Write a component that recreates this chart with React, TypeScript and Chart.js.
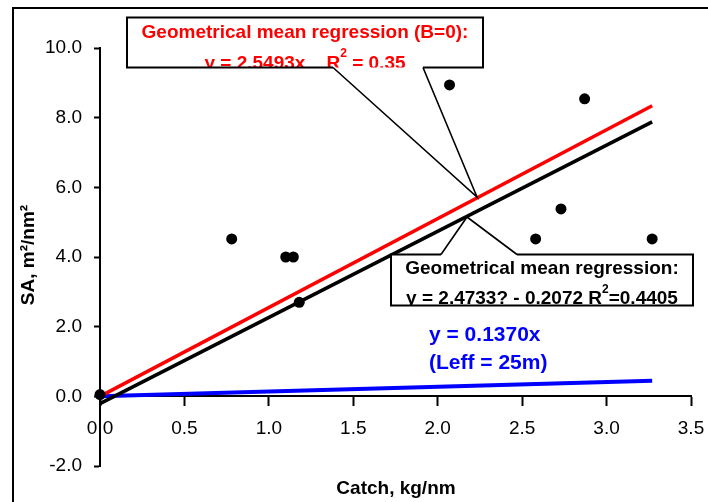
import React, { useEffect, useRef } from "react";
import { Chart, registerables } from "chart.js";

Chart.register(...registerables);

// ---- Data ----
const catchValues = [0, 0.78, 1.1, 1.145, 1.18, 2.07, 2.58, 2.73, 2.87, 3.27];
const saValues = [0.05, 4.52, 4.0, 4.0, 2.7, 8.94, 4.52, 5.38, 8.54, 4.52];

const lineX = [0, 3.27];
const gmrB0Y = [0, 8.34]; // y = 2.5493x
const gmrY = [-0.21, 7.88]; // y = 2.4733x - 0.2072
const leffY = [0, 0.45]; // y = 0.1370x

const xTitle = "Catch, kg/nm";
const yTitle = "SA, m\u00b2/nm\u00b2";

const FAMILY = '"Liberation Sans", Arial, Helvetica, sans-serif';

function toPoints(xs: number[], ys: number[]) {
  return xs.map((x, i) => ({ x, y: ys[i] }));
}

function drawSupLine(
  ctx: CanvasRenderingContext2D,
  pre: string,
  sup: string,
  post: string,
  cx: number,
  y: number,
  font: string,
  supFont: string,
  raise: number
) {
  ctx.font = font;
  const w1 = ctx.measureText(pre).width;
  const w3 = ctx.measureText(post).width;
  ctx.font = supFont;
  const w2 = ctx.measureText(sup).width;
  let x = cx - (w1 + w2 + w3) / 2;
  ctx.textAlign = "left";
  ctx.textBaseline = "alphabetic";
  ctx.font = font;
  ctx.fillText(pre, x, y);
  x += w1;
  ctx.font = supFont;
  ctx.fillText(sup, x, y - raise);
  x += w2;
  ctx.font = font;
  ctx.fillText(post, x, y);
}

const annotationPlugin = {
  id: "annotationsCustom",
  afterDraw(chart: any) {
    const ctx: CanvasRenderingContext2D = chart.ctx;
    ctx.save();

    // outer frame (top and left edges visible)
    ctx.fillStyle = "#000";
    ctx.fillRect(12, 7, 720, 2);
    ctx.fillRect(12, 7, 2, 520);

    const bold19 = `bold 19px ${FAMILY}`;
    const sup12 = `bold 12px ${FAMILY}`;

    // ---- Box 1 (red text) ----
    {
      const l = 127, t = 17.5, r = 483, b = 67.5;
      ctx.fillStyle = "#fff";
      ctx.fillRect(l, t, r - l, b - t);
      ctx.save();
      ctx.beginPath();
      ctx.rect(l, t, r - l, b - t);
      ctx.clip();
      ctx.fillStyle = "#ff0000";
      ctx.font = bold19;
      ctx.textAlign = "center";
      ctx.textBaseline = "alphabetic";
      ctx.fillText("Geometrical mean regression (B=0):", (l + r) / 2, 38);
      drawSupLine(ctx, "y = 2.5493x    R", "2", " = 0.35", (l + r) / 2, 68.5, bold19, sup12, 12);
      ctx.restore();
      ctx.strokeStyle = "#000";
      ctx.lineWidth = 2;
      ctx.beginPath();
      ctx.moveTo(333, b);
      ctx.lineTo(l, b);
      ctx.lineTo(l, t);
      ctx.lineTo(r, t);
      ctx.lineTo(r, b);
      ctx.lineTo(423, b);
      ctx.stroke();
      ctx.lineWidth = 1.6;
      ctx.beginPath();
      ctx.moveTo(333, b);
      ctx.lineTo(477, 197);
      ctx.lineTo(423, b);
      ctx.stroke();
    }

    // ---- Box 2 (black text) ----
    {
      const l = 391, t = 254.5, r = 693, b = 305.5;
      ctx.fillStyle = "#fff";
      ctx.fillRect(l, t, r - l, b - t);
      ctx.save();
      ctx.beginPath();
      ctx.rect(l, t, r - l, b - t);
      ctx.clip();
      ctx.fillStyle = "#000";
      ctx.font = bold19;
      ctx.textAlign = "center";
      ctx.textBaseline = "alphabetic";
      ctx.fillText("Geometrical mean regression:", (l + r) / 2, 274);
      drawSupLine(ctx, "y = 2.4733? - 0.2072 R", "2", "=0.4405", (l + r) / 2, 304, bold19, sup12, 11);
      ctx.restore();
      ctx.strokeStyle = "#000";
      ctx.lineWidth = 2;
      ctx.beginPath();
      ctx.moveTo(441, t);
      ctx.lineTo(l, t);
      ctx.lineTo(l, b);
      ctx.lineTo(r, b);
      ctx.lineTo(r, t);
      ctx.lineTo(517, t);
      ctx.stroke();
      ctx.lineWidth = 1.6;
      ctx.beginPath();
      ctx.moveTo(441, t);
      ctx.lineTo(467, 217);
      ctx.lineTo(517, t);
      ctx.stroke();
    }

    // ---- Blue label ----
    ctx.fillStyle = "#0000ff";
    ctx.font = `bold 21px ${FAMILY}`;
    ctx.textAlign = "left";
    ctx.textBaseline = "alphabetic";
    ctx.fillText("y = 0.1370x", 429, 341);
    ctx.fillText("(Leff = 25m)", 429, 369);

    // ---- Axis titles ----
    ctx.fillStyle = "#000";
    ctx.font = `bold 19px ${FAMILY}`;
    ctx.textAlign = "center";
    ctx.textBaseline = "alphabetic";
    ctx.fillText(xTitle, 396, 494);
    ctx.save();
    ctx.translate(29, 255);
    ctx.rotate(-Math.PI / 2);
    ctx.textBaseline = "middle";
    ctx.fillText(yTitle, 0, 0);
    ctx.restore();

    ctx.restore();
  },
};

export default function App() {
  const canvasRef = useRef<HTMLCanvasElement | null>(null);

  useEffect(() => {
    const canvas = canvasRef.current;
    if (!canvas) return;
    const tickFont = { family: FAMILY, size: 19 };
    const chart = new Chart(canvas, {
      type: "scatter",
      data: {
        datasets: [
          {
            label: "Observations",
            data: toPoints(catchValues, saValues),
            showLine: false,
            pointRadius: 5.5,
            pointBackgroundColor: "#000",
            pointBorderColor: "#000",
            pointBorderWidth: 0,
            clip: false,
          } as any,
          {
            label: "Geometrical mean regression (B=0)",
            data: toPoints(lineX, gmrB0Y),
            showLine: true,
            borderColor: "#ff0000",
            borderWidth: 3.5,
            pointRadius: 0,
            clip: false,
          },
          {
            label: "Geometrical mean regression",
            data: toPoints(lineX, gmrY),
            showLine: true,
            borderColor: "#000000",
            borderWidth: 3.5,
            pointRadius: 0,
            clip: false,
          },
          {
            label: "Leff = 25m",
            data: toPoints(lineX, leffY),
            showLine: true,
            borderColor: "#0000ff",
            borderWidth: 4,
            pointRadius: 0,
            clip: false,
          },
        ],
      },
      options: {
        responsive: false,
        animation: false,
        devicePixelRatio: 1,
        layout: { padding: { left: 0, top: 48, right: 17, bottom: 36 } },
        plugins: {
          legend: { display: false },
          tooltip: { enabled: false },
          title: { display: false },
        },
        scales: {
          x: {
            type: "linear",
            position: { y: 0 } as any,
            min: 0,
            max: 3.5,
            ticks: {
              stepSize: 0.5,
              autoSkip: false,
              maxRotation: 0,
              padding: 12,
              color: "#000",
              font: tickFont,
              callback: (v: any) => Number(v).toFixed(1),
            },
            grid: {
              display: true,
              drawOnChartArea: false,
              drawTicks: true,
              tickLength: 9,
              tickWidth: 2,
              tickColor: "#000",
            },
            border: { display: true, color: "#000", width: 2 },
            title: { display: false },
            afterFit: (s: any) => {
              s.paddingLeft = 0;
              s.paddingRight = 0;
              s.paddingTop = 0;
              s.paddingBottom = 0;
            },
          },
          y: {
            type: "linear",
            position: "left",
            min: -2,
            max: 10,
            ticks: {
              stepSize: 2,
              padding: 12,
              color: "#000",
              font: tickFont,
              callback: (v: any) => Number(v).toFixed(1),
            },
            grid: {
              display: true,
              drawOnChartArea: false,
              drawTicks: true,
              tickLength: 6,
              tickWidth: 2,
              tickColor: "#000",
            },
            border: { display: true, color: "#000", width: 2 },
            title: { display: false },
            afterFit: (s: any) => {
              s.width = 100;
            },
          },
        },
      } as any,
      plugins: [annotationPlugin],
    });
    return () => chart.destroy();
  }, []);

  return (
    <div style={{ position: "absolute", left: 0, top: 0, width: 708, height: 502, background: "#fff" }}>
      <canvas ref={canvasRef} width={708} height={502} style={{ display: "block" }} />
    </div>
  );
}
